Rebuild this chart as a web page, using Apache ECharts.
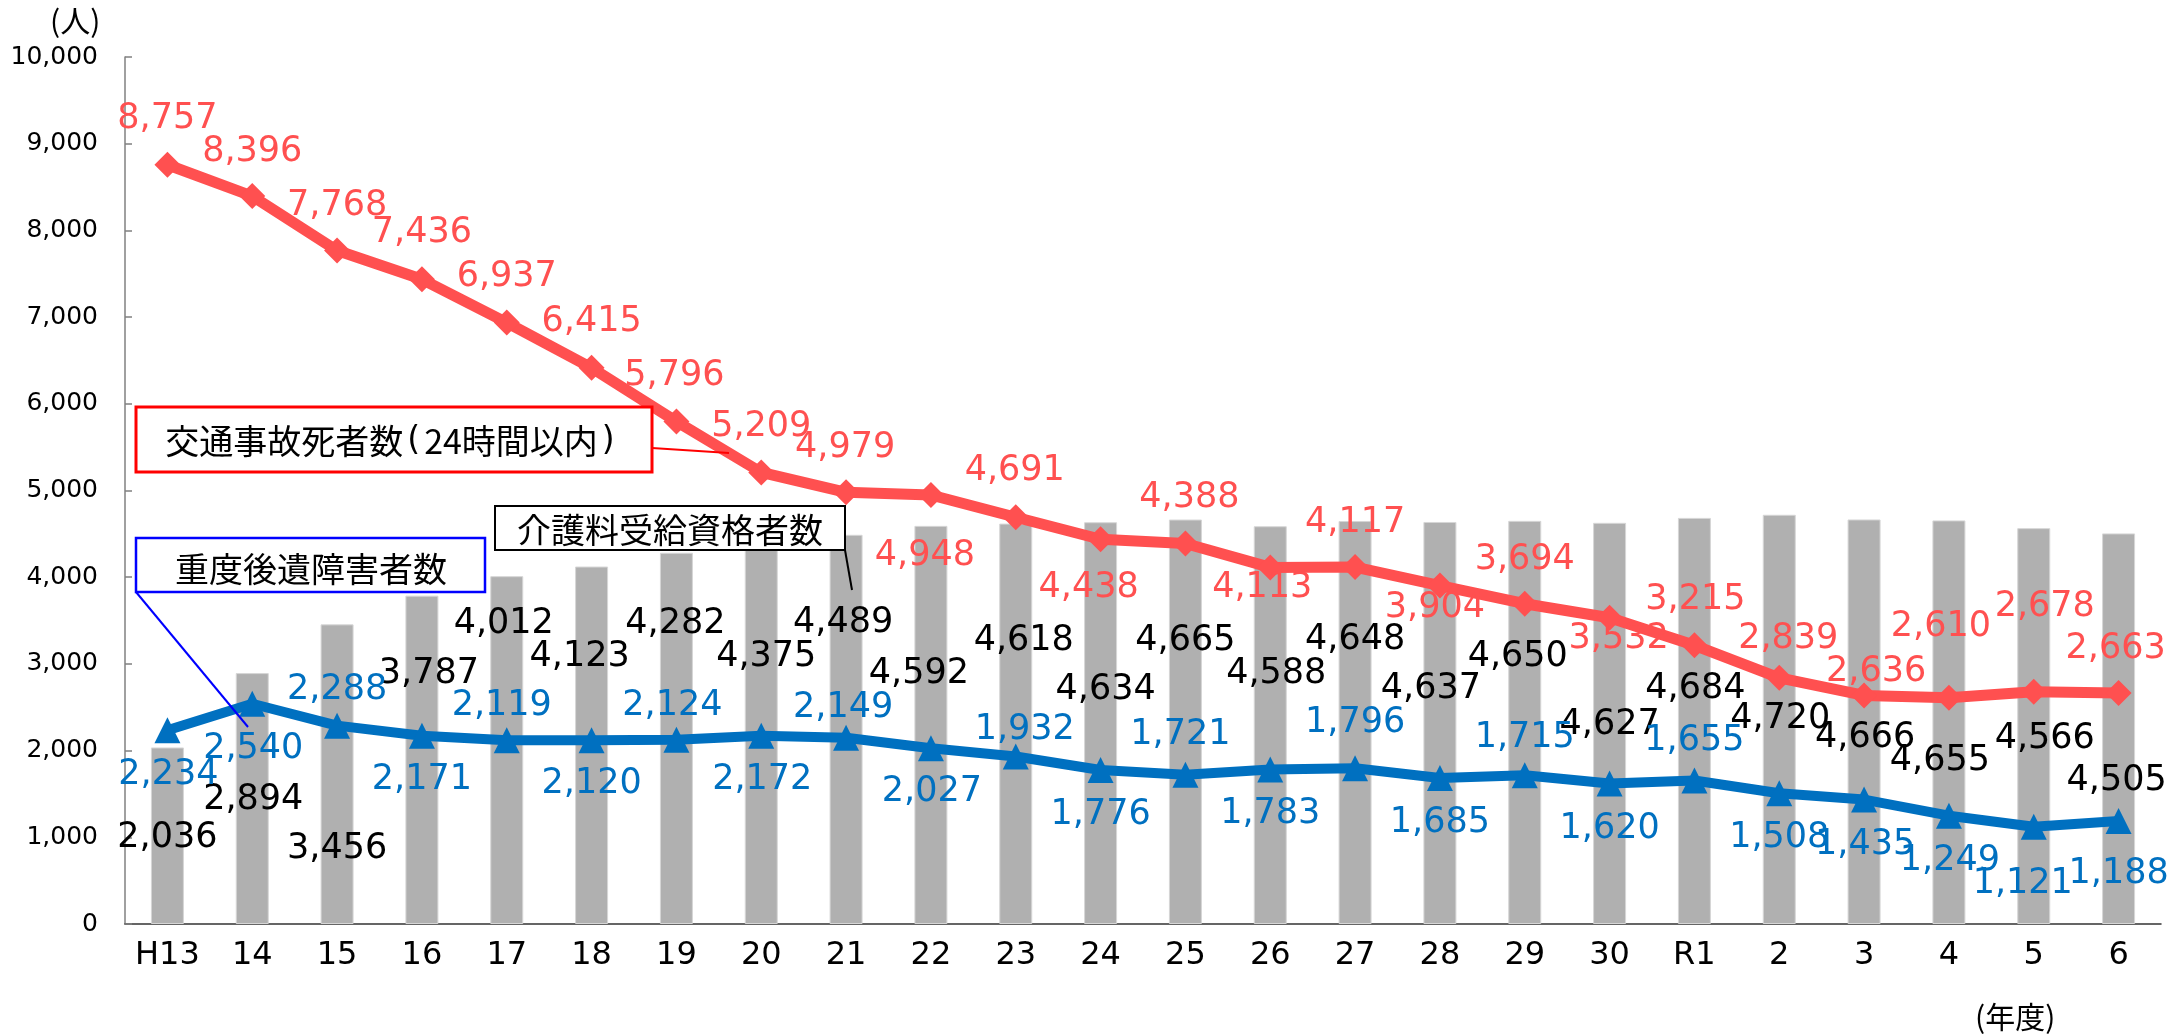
<!DOCTYPE html>
<html>
<head>
<meta charset="utf-8">
<script src="https://cdn.jsdelivr.net/npm/echarts@6/dist/echarts.min.js"></script>
<style>
html,body{margin:0;padding:0;background:#fff;}
#chart{width:2172px;height:1035px;}
</style>
</head>
<body>
<div id="chart"></div>
<script>
// ---- data ----
const categories = ['H13','14','15','16','17','18','19','20','21','22','23','24','25','26','27','28','29','30','R1','2','3','4','5','6'];
const trafficDeaths = [8757,8396,7768,7436,6937,6415,5796,5209,4979,4948,4691,4438,4388,4113,4117,3904,3694,3532,3215,2839,2636,2610,2678,2663];
const severeDisability = [2234,2540,2288,2171,2119,2120,2124,2172,2149,2027,1932,1776,1721,1783,1796,1685,1715,1620,1655,1508,1435,1249,1121,1188];
const careRecipients = [2036,2894,3456,3787,4012,4123,4282,4375,4489,4592,4618,4634,4665,4588,4648,4637,4650,4627,4684,4720,4666,4655,4566,4505];
const yMin = 0, yMax = 10000, yStep = 1000;
const unitLabel = '(人)';
const yearLabel = '(年度)';
const nameTrafficMain = '交通事故死者数';
const nameTrafficNote = '24時間以内';
const nameSevere = '重度後遺障害者数';
const nameCare = '介護料受給資格者数';

// ---- label placement (style, px) ----
const redLabelOffsets = [[0,-46],[0,-44],[0,-45],[0,-46],[0,-46],[0,-46],[-2,-46],[0,-45],[-1,-44],[-6,61],[-1,-46],[-12,49],[4,-46],[-8,21],[0,-44],[-5,22],[0,-44],[9,21],[1,-45],[9,-39],[12,-24],[-8,-71],[11,-85],[-3,-44]];
const blueLabelOffsets = [[1,45],[1,45],[0,-36],[0,44],[-5,-34],[0,44],[-4,-34],[1,44],[-3,-30],[1,44],[9,-27],[0,45],[-5,-40],[0,44],[0,-45],[0,45],[0,-37],[0,45],[0,-40],[0,45],[1,45],[1,45],[-11,57],[0,53]];
const barLabelOffsets = [[0,90],[1,127],[0,225],[7,78],[-3,48],[-12,90],[-1,71],[5,112],[-3,88],[-12,148],[8,117],[5,168],[0,121],[6,148],[0,119],[-9,167],[-7,136],[0,202],[1,171],[1,204],[1,218],[-9,240],[11,211],[-2,247]];

const fmt = v => Number(v).toLocaleString('en-US');
const NUM_FONT = 'DejaVu Sans';
const JP_FONT = '"Noto Sans CJK JP", "Noto Sans", sans-serif';
const RED = '#FF5050', BLUE = '#0070C0', GRAY = '#B0B0B0';
const LABEL_SIZE = 35;

const chart = echarts.init(document.getElementById('chart'), null, {renderer:'canvas'});

const option = {
  backgroundColor: '#fff',
  animation: false,
  grid: {left: 125, right: 11, top: 57, bottom: 111, containLabel: false},
  xAxis: {
    type: 'category',
    data: categories,
    boundaryGap: true,
    axisLine: {lineStyle: {color: '#333', width: 1.5}},
    axisTick: {inside: true, length: 9, lineStyle: {color: '#333', width: 1.5}},
    axisLabel: {fontFamily: NUM_FONT, fontSize: 32, color: '#000', margin: 16}
  },
  yAxis: {
    type: 'value',
    min: yMin, max: yMax, interval: yStep,
    splitLine: {show: false},
    axisLine: {show: true, lineStyle: {color: '#808080', width: 1.5}},
    axisTick: {show: true, inside: true, length: 7, lineStyle: {color: '#808080', width: 1.5}},
    axisLabel: {fontFamily: NUM_FONT, fontSize: 25, color: '#000', margin: 27, formatter: v => fmt(v)}
  },
  series: [
    {
      name: nameCare,
      type: 'bar',
      barWidth: 33,
      z: 1,
      itemStyle: {color: GRAY, borderColor: '#D6D6D6', borderWidth: 1},
      data: careRecipients.map((v, i) => ({
        value: v,
        label: {position: ['50%', barLabelOffsets[i][1]], offset: [barLabelOffsets[i][0], 0]}
      })),
      label: {
        show: true, formatter: p => fmt(p.value),
        fontFamily: NUM_FONT, fontSize: LABEL_SIZE, color: '#000',
        align: 'center', verticalAlign: 'middle'
      }
    },
    {
      name: nameTrafficMain + '(' + nameTrafficNote + ')',
      type: 'line',
      z: 3,
      symbol: 'diamond', symbolSize: 26,
      lineStyle: {color: RED, width: 11},
      itemStyle: {color: RED},
      data: trafficDeaths.map((v, i) => ({value: v, label: {offset: redLabelOffsets[i]}})),
      label: {
        show: true, position: 'inside', formatter: p => fmt(p.value),
        fontFamily: NUM_FONT, fontSize: LABEL_SIZE, color: RED,
        align: 'center', verticalAlign: 'middle'
      }
    },
    {
      name: nameSevere,
      type: 'line',
      z: 4,
      symbol: 'triangle', symbolSize: 26,
      lineStyle: {color: BLUE, width: 10},
      itemStyle: {color: BLUE},
      data: severeDisability.map((v, i) => ({value: v, label: {offset: blueLabelOffsets[i]}})),
      label: {
        show: true, position: 'inside', formatter: p => fmt(p.value),
        fontFamily: NUM_FONT, fontSize: LABEL_SIZE, color: BLUE,
        align: 'center', verticalAlign: 'middle'
      }
    }
  ],
  graphic: [
    {type: 'text', left: 50, top: 6, style: {text: unitLabel, font: '30px ' + JP_FONT, fill: '#000'}},
    {type: 'text', left: 1975, top: 1002, style: {text: yearLabel, font: '30px ' + JP_FONT, fill: '#000'}},
    // red callout
    {type: 'line', z: 10, shape: {x1: 652, y1: 448, x2: 729, y2: 453}, style: {stroke: '#FF0000', lineWidth: 2}},
    {type: 'rect', z: 10, shape: {x: 136, y: 407, width: 516, height: 65}, style: {fill: '#fff', stroke: '#FF0000', lineWidth: 3}},
    {type: 'text', z: 11, x: 392, y: 441, style: {
      text: '{a|' + nameTrafficMain + '}{p|(}{a|' + nameTrafficNote + '}{p|)}',
      align: 'center', verticalAlign: 'middle',
      rich: {
        a: {fontFamily: JP_FONT, fontSize: 34, fill: '#000', color: '#000'},
        p: {fontFamily: NUM_FONT, fontSize: 33, fill: '#000', color: '#000', padding: [0, 4, 0, 4]}
      }
    }},
    // blue callout
    {type: 'line', z: 10, shape: {x1: 136, y1: 592, x2: 248, y2: 727}, style: {stroke: '#0000FF', lineWidth: 2}},
    {type: 'rect', z: 10, shape: {x: 136, y: 538, width: 349, height: 54}, style: {fill: '#fff', stroke: '#0000FF', lineWidth: 2.5}},
    {type: 'text', z: 11, x: 311, y: 569, style: {text: nameSevere, font: '34px ' + JP_FONT, fill: '#000', align: 'center', verticalAlign: 'middle'}},
    // black callout
    {type: 'line', z: 10, shape: {x1: 845, y1: 550, x2: 852, y2: 590}, style: {stroke: '#000', lineWidth: 2}},
    {type: 'rect', z: 10, shape: {x: 495, y: 506, width: 350, height: 44}, style: {fill: '#fff', stroke: '#000', lineWidth: 2}},
    {type: 'text', z: 11, x: 670, y: 530, style: {text: nameCare, font: '34px ' + JP_FONT, fill: '#000', align: 'center', verticalAlign: 'middle'}}
  ]
};
chart.setOption(option);
</script>
</body>
</html>
